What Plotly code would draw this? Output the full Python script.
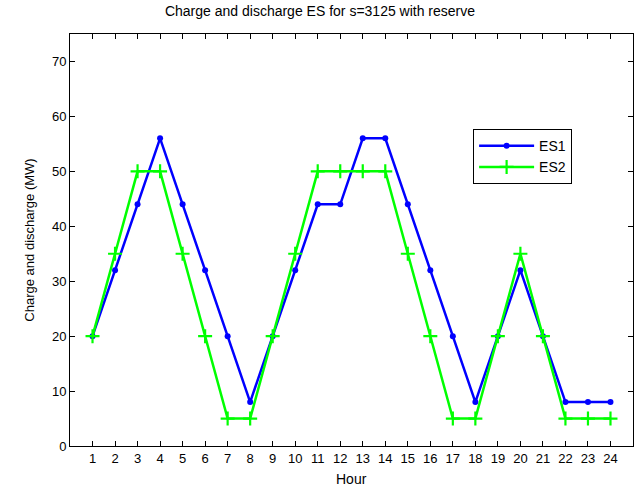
import plotly.graph_objects as go

hours = list(range(1, 25))
es1 = [20, 32, 44, 56, 44, 32, 20, 8, 20, 32, 44, 44, 56, 56, 44, 32, 20, 8, 20, 32, 20, 8, 8, 8]
es2 = [20, 35, 50, 50, 35, 20, 5, 5, 20, 35, 50, 50, 50, 50, 35, 20, 5, 5, 20, 35, 20, 5, 5, 5]
tick_labels = [str(h) for h in hours]

FONT = "Liberation Sans, Arial, Helvetica, sans-serif"

fig = go.Figure()
fig.add_trace(go.Scatter(
    x=hours, y=es1, name="ES1", mode="lines+markers",
    line=dict(color="#0000ff", width=2.5),
    marker=dict(symbol="circle", size=6, color="#0000ff"),
))
fig.add_trace(go.Scatter(
    x=hours, y=es2, name="ES2", mode="lines+markers",
    line=dict(color="#00ff00", width=2.5),
    marker=dict(symbol="cross-thin", size=10, line=dict(color="#00ff00", width=2.2)),
))

axis_common = dict(
    showline=True, linecolor="black", linewidth=1, mirror="ticks",
    ticks="inside", ticklen=5, tickcolor="black", tickwidth=1,
    showgrid=False, zeroline=False, automargin=False,
    tickfont=dict(family=FONT, size=13, color="black"),
)

fig.update_layout(
    width=640, height=486,
    margin=dict(l=70, r=7, t=34, b=40),
    paper_bgcolor="white", plot_bgcolor="white",
    font=dict(family=FONT, size=13, color="black"),
    title=dict(text="Charge and discharge ES for s=3125 with reserve",
               x=0.5, xanchor="center", y=0.988, yanchor="top",
               font=dict(family=FONT, size=14, color="black")),
    xaxis=dict(range=[0, 25], tickmode="array", tickvals=hours, ticktext=tick_labels,
               **axis_common),
    yaxis=dict(range=[0, 75], tickmode="array", tickvals=list(range(0, 80, 10)),
               title=dict(text="Charge and discharge (MW)", standoff=14, font=dict(family=FONT, size=13)),
               **axis_common),
    showlegend=True,
    legend=dict(x=0.716, y=0.769, xanchor="left", yanchor="top",
                bordercolor="black", borderwidth=1, bgcolor="white",
                font=dict(family=FONT, size=14, color="black"),
                itemwidth=55, tracegroupgap=2),
)
fig.add_annotation(text="Hour", xref="paper", yref="paper", x=0.5, y=0,
                   xanchor="center", yanchor="top", yshift=-23, showarrow=False,
                   font=dict(family=FONT, size=14, color="black"))

fig.write_html("out.html")
